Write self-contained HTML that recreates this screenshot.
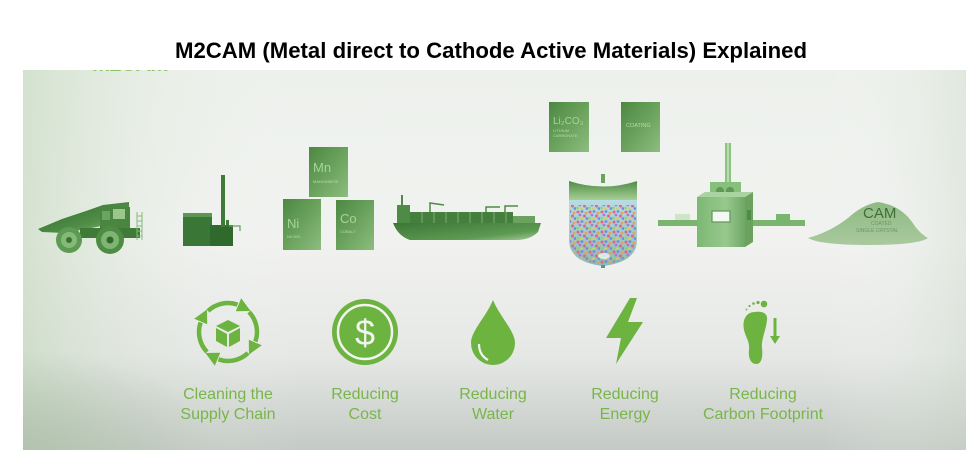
<!DOCTYPE html>
<html>
<head>
<meta charset="utf-8">
<style>
  html,body{margin:0;padding:0;background:#fff;}
  body{width:980px;height:461px;overflow:hidden;position:relative;}
  svg.main{position:absolute;left:0;top:0;}
  .frag{position:absolute;left:92px;top:70px;width:86px;height:4px;overflow:hidden;}
  .frag span{position:absolute;left:0;top:-17px;font-family:"Liberation Sans",sans-serif;font-weight:bold;font-size:22px;line-height:22px;color:#8cc46a;white-space:nowrap;letter-spacing:-1px;}
</style>
</head>
<body>
<svg class="main" width="980" height="461" viewBox="0 0 980 461" xmlns="http://www.w3.org/2000/svg">
  <defs>
    <linearGradient id="pv" x1="0" y1="0" x2="0" y2="1">
      <stop offset="0" stop-color="#edf1ec"/>
      <stop offset="0.45" stop-color="#f1f2f0"/>
      <stop offset="0.75" stop-color="#e6e8e6"/>
      <stop offset="1" stop-color="#c4cac5"/>
    </linearGradient>
    <linearGradient id="ph" x1="0" y1="0" x2="1" y2="0">
      <stop offset="0" stop-color="#b9d2b0" stop-opacity="0.5"/>
      <stop offset="0.12" stop-color="#c9dcc2" stop-opacity="0.18"/>
      <stop offset="0.3" stop-color="#ffffff" stop-opacity="0"/>
      <stop offset="0.85" stop-color="#ffffff" stop-opacity="0"/>
      <stop offset="1" stop-color="#c7d6c4" stop-opacity="0.35"/>
    </linearGradient>
    <radialGradient id="bl" cx="0" cy="1" r="0.5">
      <stop offset="0" stop-color="#a9bba5" stop-opacity="0.6"/>
      <stop offset="1" stop-color="#a9bba5" stop-opacity="0"/>
    </radialGradient>
    <linearGradient id="dg" x1="0" y1="0" x2="1" y2="1">
      <stop offset="0" stop-color="#2f6a2c"/>
      <stop offset="0.6" stop-color="#4f8c45"/>
      <stop offset="1" stop-color="#8ab97c"/>
    </linearGradient>
    <linearGradient id="box" x1="0" y1="0" x2="1" y2="1">
      <stop offset="0" stop-color="#4c8842"/>
      <stop offset="0.5" stop-color="#6aa25c"/>
      <stop offset="1" stop-color="#8dbd80"/>
    </linearGradient>
    <linearGradient id="hull" x1="0" y1="0" x2="1" y2="1">
      <stop offset="0" stop-color="#3c7636"/>
      <stop offset="0.7" stop-color="#5e9a53"/>
      <stop offset="1" stop-color="#a5c99a"/>
    </linearGradient>
    <linearGradient id="fur" x1="0" y1="0" x2="1" y2="0">
      <stop offset="0" stop-color="#7db874"/>
      <stop offset="0.6" stop-color="#98c88e"/>
      <stop offset="1" stop-color="#6fa866"/>
    </linearGradient>
    <linearGradient id="lid" x1="0" y1="0" x2="0" y2="1">
      <stop offset="0" stop-color="#4f8c45"/>
      <stop offset="1" stop-color="#a6cf95"/>
    </linearGradient>
    <linearGradient id="tank" x1="0" y1="0" x2="0" y2="1">
      <stop offset="0" stop-color="#b9dbe4"/>
      <stop offset="1" stop-color="#8fb8b4"/>
    </linearGradient>
    <pattern id="dots" width="12" height="10" patternUnits="userSpaceOnUse">
      <circle cx="2" cy="2" r="1.5" fill="#e4607e"/>
      <circle cx="6" cy="1.5" r="1.4" fill="#6f86e0"/>
      <circle cx="10" cy="3" r="1.5" fill="#e3a25a"/>
      <circle cx="4" cy="5" r="1.4" fill="#b36fd6"/>
      <circle cx="8.5" cy="6" r="1.5" fill="#e4607e"/>
      <circle cx="1.5" cy="8" r="1.4" fill="#8fd07a"/>
      <circle cx="5.5" cy="8.8" r="1.3" fill="#d6cf5c"/>
      <circle cx="11" cy="8.5" r="1.4" fill="#6f86e0"/>
    </pattern>
    <linearGradient id="pile" x1="0" y1="0" x2="0" y2="1">
      <stop offset="0" stop-color="#8fba82"/>
      <stop offset="1" stop-color="#a9c99e"/>
    </linearGradient>
  </defs>

  <!-- panel -->
  <rect x="23" y="70" width="943" height="380" fill="url(#pv)"/>
  <rect x="23" y="70" width="943" height="380" fill="url(#ph)"/>
  <rect x="23" y="250" width="400" height="200" fill="url(#bl)"/>

  <!-- title -->
  <text x="491" y="58" text-anchor="middle" font-family="Liberation Sans, Arial, sans-serif" font-weight="bold" font-size="22" fill="#000" textLength="632" lengthAdjust="spacingAndGlyphs">M2CAM (Metal direct to Cathode Active Materials) Explained</text>

  <!-- Truck -->
  <g>
    <polygon points="38,229 62,219 86,211 103,205 129,202 129,207 110,209 102,226 64,233 42,232" fill="url(#dg)"/>
    <rect x="100" y="207" width="30" height="26" fill="#4a8640"/>
    <rect x="113" y="209" width="12" height="10" fill="#9cc78c"/>
    <rect x="102" y="211" width="8" height="9" fill="#6ea463"/>
    <rect x="80" y="228" width="60" height="10" fill="#3f7a38"/>
    <g stroke="#8ab87c" stroke-width="1">
      <line x1="137" y1="212" x2="137" y2="240"/>
      <line x1="142" y1="212" x2="142" y2="240"/>
      <line x1="137" y1="216" x2="142" y2="216"/>
      <line x1="137" y1="221" x2="142" y2="221"/>
      <line x1="137" y1="226" x2="142" y2="226"/>
      <line x1="137" y1="231" x2="142" y2="231"/>
      <line x1="137" y1="236" x2="142" y2="236"/>
    </g>
    <circle cx="69" cy="240" r="13" fill="#5d9a53"/>
    <circle cx="69" cy="240" r="8" fill="#86b978"/>
    <circle cx="69" cy="240" r="3" fill="#3b7335"/>
    <circle cx="110" cy="240" r="14" fill="#4e8c45"/>
    <circle cx="110" cy="240" r="9" fill="#7fb472"/>
    <circle cx="110" cy="240" r="3.5" fill="#2f6a2c"/>
  </g>

  <!-- Factory -->
  <g>
    <rect x="183" y="213" width="29" height="33" fill="#3a7635"/>
    <rect x="183" y="213" width="29" height="4" fill="#5c9652"/>
    <rect x="210" y="225" width="23" height="21" fill="#2f6a2c"/>
    <rect x="221" y="175" width="4" height="52" fill="#3f7a38"/>
    <rect x="226" y="220" width="3" height="6" fill="#3f7a38"/>
    <path d="M229,226 L240,226 L240,231" stroke="#6da264" stroke-width="1.3" fill="none"/>
  </g>

  <!-- Element boxes -->
  <g font-family="Liberation Sans, sans-serif">
    <rect x="309" y="147" width="39" height="50" fill="url(#box)"/>
    <text x="313" y="172" font-size="13" fill="#a8d29a">Mn</text>
    <text x="313" y="183" font-size="4" fill="#b8dbab">MANGANESE</text>

    <rect x="283" y="199" width="38" height="51" fill="url(#box)"/>
    <text x="287" y="228" font-size="13" fill="#a8d29a">Ni</text>
    <text x="287" y="238" font-size="4" fill="#b8dbab">NICKEL</text>

    <rect x="336" y="200" width="38" height="50" fill="url(#box)"/>
    <text x="340" y="223" font-size="13" fill="#a8d29a">Co</text>
    <text x="340" y="233" font-size="4" fill="#b8dbab">COBALT</text>

    <rect x="549" y="102" width="40" height="50" fill="url(#box)"/>
    <text x="553" y="124" font-size="10" fill="#a8d29a">Li₂CO₃</text>
    <text x="553" y="132" font-size="4" fill="#b8dbab">LITHIUM</text>
    <text x="553" y="137" font-size="4" fill="#b8dbab">CARBONATE</text>

    <rect x="621" y="102" width="39" height="50" fill="url(#box)"/>
    <text x="626" y="127" font-size="5.5" fill="#b8dbab">COATING</text>
  </g>

  <!-- Ship -->
  <g>
    <path d="M393,223 L541,223 L538,232 Q530,240 516,240 L410,240 Q398,236 393,223 Z" fill="url(#hull)"/>
    <rect x="397" y="205" width="13" height="18" fill="#4e8b45"/>
    <rect x="401" y="195" width="2" height="10" fill="#4e8b45"/>
    <rect x="410" y="212" width="103" height="11" fill="#457f3d"/>
    <g stroke="#8ab87c" stroke-width="0.8">
      <line x1="422" y1="212" x2="422" y2="223"/>
      <line x1="434" y1="212" x2="434" y2="223"/>
      <line x1="446" y1="212" x2="446" y2="223"/>
      <line x1="458" y1="212" x2="458" y2="223"/>
      <line x1="470" y1="212" x2="470" y2="223"/>
      <line x1="482" y1="212" x2="482" y2="223"/>
      <line x1="494" y1="212" x2="494" y2="223"/>
      <line x1="506" y1="212" x2="506" y2="223"/>
    </g>
    <g stroke="#4e8b45" stroke-width="1.5" fill="none">
      <path d="M430,212 L430,203 L444,205"/>
      <path d="M486,212 L486,207 L500,207"/>
      <path d="M505,212 L505,206 L518,206"/>
    </g>
    <rect x="513" y="216" width="22" height="7" fill="#6aa25e"/>
  </g>

  <!-- Reactor -->
  <g>
    <rect x="601" y="174" width="4" height="9" fill="#6aa25e"/>
    <path d="M569,181 Q603,192 637,181 L637,200 L569,200 Z" fill="url(#lid)"/>
    <path d="M569,200 L637,200 L637,240 Q637,262 603,266 Q569,262 569,240 Z" fill="url(#tank)"/>
    <path d="M570,205 L636,205 L636,240 Q636,261 603,264 Q570,261 570,240 Z" fill="url(#dots)" opacity="0.95"/>
    <ellipse cx="604" cy="256" rx="6" ry="3" fill="#eef8f4" opacity="0.8"/>
    <rect x="601" y="265" width="4" height="3" fill="#5f8f90"/>
  </g>

  <!-- Furnace -->
  <g>
    <rect x="658" y="220" width="40" height="6" fill="#7ab56f"/>
    <rect x="675" y="214" width="15" height="6" fill="#cfe4c8"/>
    <rect x="752" y="220" width="53" height="6" fill="#7ab56f"/>
    <rect x="776" y="214" width="14" height="6" fill="#7ab56f"/>
    <rect x="725" y="143" width="6" height="40" fill="#8ec284"/>
    <rect x="727" y="143" width="2" height="40" fill="#b6dcab"/>
    <rect x="710" y="182" width="31" height="18" fill="#87bf7d"/>
    <circle cx="720" cy="191" r="4" fill="#5f9855"/>
    <circle cx="730" cy="191" r="4" fill="#5f9855"/>
    <rect x="697" y="197" width="48" height="50" fill="url(#fur)"/>
    <polygon points="745,197 753,192 753,242 745,247" fill="#6aa25e"/>
    <polygon points="697,197 705,192 753,192 745,197" fill="#a9d39f"/>
    <rect x="712" y="211" width="18" height="11" fill="#f4f8f2" stroke="#5f9855" stroke-width="1.2"/>
    <rect x="747" y="210" width="4" height="10" fill="#4f8a46"/>
  </g>

  <!-- CAM pile -->
  <g font-family="Liberation Sans, sans-serif">
    <path d="M808,238 Q830,232 848,218 Q862,205 878,202 Q900,205 912,222 Q920,234 928,238 Q918,245 870,245 Q820,245 808,238 Z" fill="url(#pile)"/>
    <text x="863" y="218" font-size="15" fill="#3f6e3a">CAM</text>
    <text x="871" y="225" font-size="5" fill="#6c9564">COATED</text>
    <text x="856" y="232" font-size="5" fill="#6c9564">SINGLE CRYSTAL</text>
  </g>

  <!-- Icons -->
  <g fill="#6cb33f">
    <g>
      <path d="M208,311 A29,29 0 0 1 237.5,304.6" fill="none" stroke="#6cb33f" stroke-width="4.5"/>
      <polygon points="235.8,311.2 241.2,298.2 250.5,311"/>
    </g>
    <g transform="rotate(90 228 332)">
      <path d="M208,311 A29,29 0 0 1 237.5,304.6" fill="none" stroke="#6cb33f" stroke-width="4.5"/>
      <polygon points="235.8,311.2 241.2,298.2 250.5,311"/>
    </g>
    <g transform="rotate(180 228 332)">
      <path d="M208,311 A29,29 0 0 1 237.5,304.6" fill="none" stroke="#6cb33f" stroke-width="4.5"/>
      <polygon points="235.8,311.2 241.2,298.2 250.5,311"/>
    </g>
    <g transform="rotate(270 228 332)">
      <path d="M208,311 A29,29 0 0 1 237.5,304.6" fill="none" stroke="#6cb33f" stroke-width="4.5"/>
      <polygon points="235.8,311.2 241.2,298.2 250.5,311"/>
    </g>
    <polygon points="228,320 240,326 228,332 216,326"/>
    <polygon points="216,328 227,334 227,347 216,341"/>
    <polygon points="229,334 240,328 240,341 229,347"/>

    <circle cx="365" cy="332" r="33"/>
    <circle cx="365" cy="332" r="27" fill="none" stroke="#f2f4f1" stroke-width="2.5"/>
    <text x="365" y="345" text-anchor="middle" font-family="Liberation Sans, sans-serif" font-size="36" fill="#f2f4f1">$</text>

    <path d="M493,300 C486,317 471,331 471,343 A22,22 0 0 0 515,343 C515,331 500,317 493,300 Z"/>
    <path d="M479,344 Q479,355 488,360" fill="none" stroke="#f2f4f1" stroke-width="2.2"/>

    <polygon points="630,298 606,338 621,338 616,364 643,322 628,322 637,298"/>

    <path d="M755,312 C746,312 742,320 744,330 C746,338 750,342 749,350 C748,358 751,364 756,364 C762,364 763,356 762,348 C761,340 766,330 767,320 C768,313 762,311 755,312 Z"/>
    <circle cx="764" cy="304" r="3.3"/>
    <circle cx="758" cy="302.5" r="1.6"/>
    <circle cx="753.5" cy="303.5" r="1.3"/>
    <circle cx="749.5" cy="306" r="1.1"/>
    <circle cx="746.5" cy="309.5" r="0.9"/>
    <rect x="773.5" y="318" width="3" height="20"/>
    <polygon points="770,336 780,336 775,344"/>
  </g>

  <!-- labels -->
  <g font-family="Liberation Sans, Arial, sans-serif" font-size="16" fill="#78b54a" text-anchor="middle">
    <text x="228" y="399">Cleaning the</text>
    <text x="228" y="419">Supply Chain</text>
    <text x="365" y="399">Reducing</text>
    <text x="365" y="419">Cost</text>
    <text x="493" y="399">Reducing</text>
    <text x="493" y="419">Water</text>
    <text x="625" y="399">Reducing</text>
    <text x="625" y="419">Energy</text>
    <text x="763" y="399">Reducing</text>
    <text x="763" y="419">Carbon Footprint</text>
  </g>
</svg>
<div class="frag"><span>M2CAM</span></div>
</body>
</html>
